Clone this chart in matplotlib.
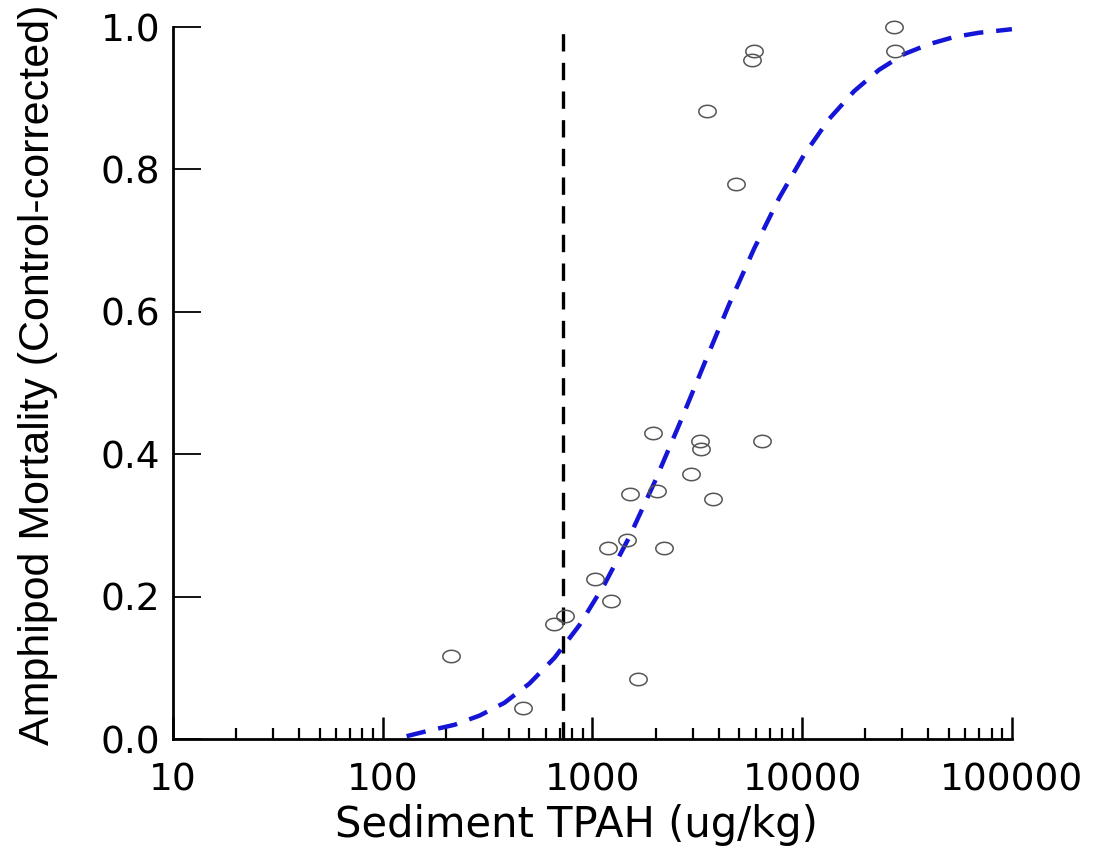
import numpy as np
import matplotlib
matplotlib.use('Agg')
import matplotlib.pyplot as plt
from matplotlib.path import Path
from matplotlib.ticker import LogLocator, NullFormatter, FixedLocator, FixedFormatter

# observed samples: sediment TPAH (ug/kg) vs control-corrected mortality
tpah = [212, 466, 659, 736, 1031, 1183, 1228, 1456, 1514, 1644, 1950, 2031,
        2186, 2953, 3258, 3294, 3518, 3738, 4830, 5742, 5907, 6424, 27410, 27740]
mortality = [0.116, 0.043, 0.161, 0.173, 0.225, 0.269, 0.194, 0.279, 0.344, 0.085,
             0.430, 0.349, 0.268, 0.372, 0.418, 0.407, 0.882, 0.337, 0.779, 0.954,
             0.967, 0.419, 1.000, 0.966]

# fitted dose-response curve
curve_tpah = [130, 167, 220, 290, 381, 501, 659, 867, 1140, 1500, 1973, 2595,
              3413, 4490, 5905, 7767, 10230, 13450, 17690, 23270, 30610, 40260,
              52960, 69660, 100000]
curve_mortality = [0.004, 0.012, 0.020, 0.033, 0.051, 0.078, 0.114, 0.160, 0.217,
                   0.284, 0.360, 0.442, 0.527, 0.611, 0.689, 0.760, 0.821, 0.871,
                   0.910, 0.940, 0.962, 0.976, 0.986, 0.992, 0.997]

threshold = 720

y_ticks = [0.0, 0.2, 0.4, 0.6, 0.8, 1.0]
y_labels = ['0.0', '0.2', '0.4', '0.6', '0.8', '1.0']
x_ticks = [10, 100, 1000, 10000, 100000]
x_labels = ['10', '100', '1000', '10000', '100000']


def main():
    fig = plt.figure(figsize=(11.08, 8.48), dpi=100)
    ax = fig.add_axes([0.1561, 0.1285, 0.7572, 0.8396])

    ax.set_xscale('log')
    ax.set_xlim(10, 100000)
    ax.set_ylim(0, 1)

    # slightly wide open ellipse like the original markers
    t = np.linspace(0, 2 * np.pi, 61)
    ellipse = Path(np.column_stack([1.4 * np.cos(t), np.sin(t)]), closed=True)

    ax.axvline(threshold, ymin=0, ymax=1, color='black', lw=2.4,
               dashes=(5.2, 3.4), zorder=2)
    ax.plot(curve_tpah, curve_mortality, color='#1515d8', lw=3.2,
            dashes=(4.4, 2.9), zorder=3, clip_on=False)
    ax.plot(tpah, mortality, linestyle='none', marker=ellipse, ms=12.5,
            mfc='none', mec='#555555', mew=1.1, clip_on=False, zorder=4)

    ax.spines[['top', 'right']].set_visible(False)
    for s in ['left', 'bottom']:
        ax.spines[s].set_linewidth(2.0)

    ax.xaxis.set_major_locator(FixedLocator(x_ticks))
    ax.xaxis.set_major_formatter(FixedFormatter(x_labels))
    ax.xaxis.set_minor_locator(LogLocator(base=10, subs=np.arange(2, 10)))
    ax.xaxis.set_minor_formatter(NullFormatter())
    ax.yaxis.set_major_locator(FixedLocator(y_ticks))
    ax.yaxis.set_major_formatter(FixedFormatter(y_labels))

    ax.tick_params(axis='x', which='major', direction='in', length=16, width=1.8,
                   pad=17, labelsize=27)
    ax.tick_params(axis='x', which='minor', direction='in', length=8, width=1.6)
    ax.tick_params(axis='y', which='major', direction='in', length=20, width=1.3,
                   pad=9, labelsize=27)

    ax.set_xlabel('Sediment TPAH (ug/kg)', fontsize=30)
    ax.xaxis.set_label_coords(0.4815, -0.0913)
    ax.set_ylabel('Amphipod Mortality (Control-corrected)', fontsize=31,
                  family=['Liberation Sans', 'DejaVu Sans'])
    ax.yaxis.set_label_coords(-0.137, 0.511)

    fig.savefig('out.png', dpi=100)


if __name__ == '__main__':
    main()
